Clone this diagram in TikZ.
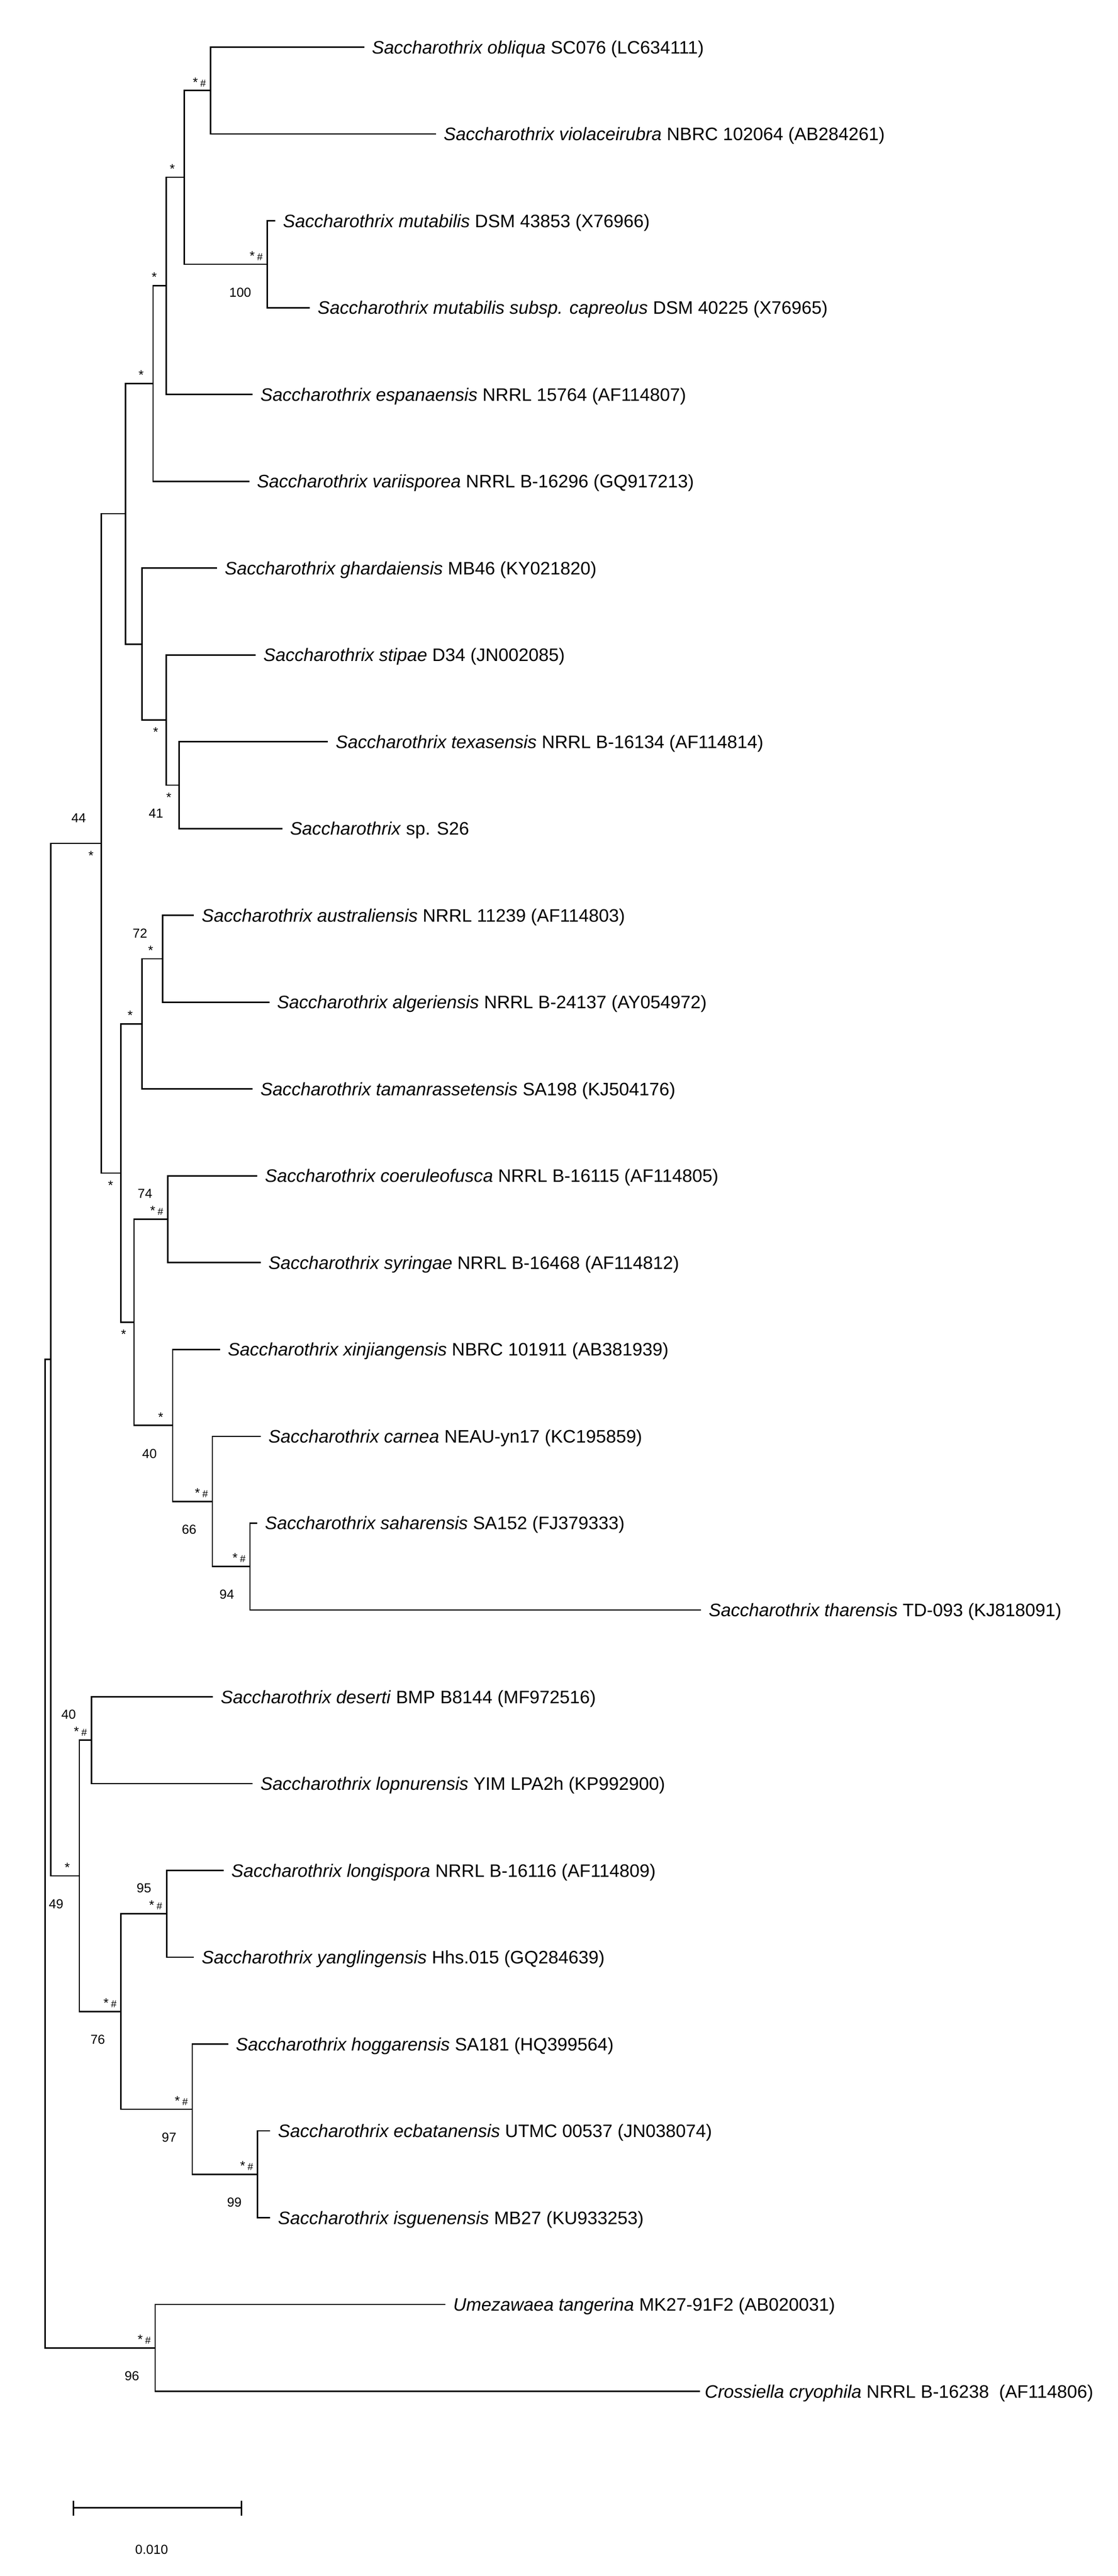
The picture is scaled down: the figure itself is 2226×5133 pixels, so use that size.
\documentclass[tikz,border=0pt]{standalone}
\usepackage{fontspec}
\setmainfont{Liberation Sans}
\newcommand{\taxon}[1]{\textit{#1}}
\newcommand{\hsh}{\kern1.2pt{\fontsize{5pt}{6pt}\selectfont\#}}

\tikzset{
  br/.style={line width=0.7pt, line cap=rect},
  leaf/.style={anchor=west, inner xsep=4pt, inner ysep=0pt, text height=6.45pt, text depth=0pt, font=\fontsize{9pt}{11pt}\selectfont},
  bs/.style={anchor=base east, inner sep=0pt, font=\fontsize{6.5pt}{8pt}\selectfont},
}

\begin{document}
\begin{tikzpicture}[x=0.25pt,y=0.25pt,yscale=-1,xscale=1]
\useasboundingbox (0,0) rectangle (2226,5133);

%Leaves
\node[leaf] (obl) at (724,94)   {\taxon{Saccharothrix obliqua} SC076 (LC634111)};
\node[leaf] (vio) at (867,267)  {\taxon{Saccharothrix violaceirubra} NBRC 102064 (AB284261)};
\node[leaf] (mut) at (547,440)  {\taxon{Saccharothrix mutabilis} DSM 43853 (X76966)};
\node[leaf] (cap) at (616,613)  {\taxon{Saccharothrix mutabilis subsp. capreolus} DSM 40225 (X76965)};
\node[leaf] (esp) at (502,786)  {\taxon{Saccharothrix espanaensis} NRRL 15764 (AF114807)};
\node[leaf] (var) at (495,959)  {\taxon{Saccharothrix variisporea} NRRL B-16296 (GQ917213)};
\node[leaf] (gha) at (431,1132) {\taxon{Saccharothrix ghardaiensis} MB46 (KY021820)};
\node[leaf] (sti) at (508,1305) {\taxon{Saccharothrix stipae} D34 (JN002085)};
\node[leaf] (tex) at (652,1478) {\taxon{Saccharothrix texasensis} NRRL B-16134 (AF114814)};
\node[leaf] (s26) at (561,1651) {\taxon{Saccharothrix} sp. S26};
\node[leaf] (aus) at (385,1824) {\taxon{Saccharothrix australiensis} NRRL 11239 (AF114803)};
\node[leaf] (alg) at (535,1997) {\taxon{Saccharothrix algeriensis} NRRL B-24137 (AY054972)};
\node[leaf] (tam) at (502,2170) {\taxon{Saccharothrix tamanrassetensis} SA198 (KJ504176)};
\node[leaf] (coe) at (511,2343) {\taxon{Saccharothrix coeruleofusca} NRRL B-16115 (AF114805)};
\node[leaf] (syr) at (518,2516) {\taxon{Saccharothrix syringae} NRRL B-16468 (AF114812)};
\node[leaf] (xin) at (437,2689) {\taxon{Saccharothrix xinjiangensis} NBRC 101911 (AB381939)};
\node[leaf] (car) at (518,2862) {\taxon{Saccharothrix carnea} NEAU-yn17 (KC195859)};
\node[leaf] (sah) at (511,3035) {\taxon{Saccharothrix saharensis} SA152 (FJ379333)};
\node[leaf] (tha) at (1395,3208) {\taxon{Saccharothrix tharensis} TD-093 (KJ818091)};
\node[leaf] (des) at (423,3381) {\taxon{Saccharothrix deserti} BMP B8144 (MF972516)};
\node[leaf] (lop) at (502,3554) {\taxon{Saccharothrix lopnurensis} YIM LPA2h (KP992900)};
\node[leaf] (lon) at (444,3727) {\taxon{Saccharothrix longispora} NRRL B-16116 (AF114809)};
\node[leaf] (yan) at (385,3900) {\taxon{Saccharothrix yanglingensis} Hhs.015 (GQ284639)};
\node[leaf] (hog) at (453,4073) {\taxon{Saccharothrix hoggarensis} SA181 (HQ399564)};
\node[leaf] (ecb) at (537,4246) {\taxon{Saccharothrix ecbatanensis} UTMC 00537 (JN038074)};
\node[leaf] (isg) at (537,4419) {\taxon{Saccharothrix isguenensis} MB27 (KU933253)};
\node[leaf] (ume) at (886,4592) {\taxon{Umezawaea tangerina} MK27-91F2 (AB020031)};
\node[leaf, inner xsep=2.5pt] (cro) at (1393,4765) {\taxon{Crossiella cryophila} NRRL B-16238~~(AF114806)};

%Internal nodes
\coordinate (nA) at (419,180.5);
\coordinate (nM) at (532,526.5);
\coordinate (nB) at (367,353);
\coordinate (nC) at (331,569.5);
\coordinate (nD) at (305,764);
\coordinate (nH) at (357,1564.5);
\coordinate (nG) at (331,1435);
\coordinate (nF) at (283,1283.5);
\coordinate (nE) at (250,1023.5);
\coordinate (nL) at (324,1910.5);
\coordinate (nK) at (283,2040);
\coordinate (nO) at (334,2429.5);
\coordinate (nR) at (498,3121.5);
\coordinate (nQ) at (423,2991.75);
\coordinate (nP) at (344,2840.4);
\coordinate (nN) at (267,2635);
\coordinate (nJ) at (241,2337.5);
\coordinate (nI) at (202,1680.6);
\coordinate (nV) at (182,3467.5);
\coordinate (nX) at (332,3813.5);
\coordinate (nZ) at (513,4332.5);
\coordinate (nY) at (383,4202.75);
\coordinate (nW) at (241,4008);
\coordinate (nU) at (158,3737.8);
\coordinate (nS) at (101,2709);
\coordinate (nT) at (309,4678.5);
\coordinate (root) at (90,3693.8);

%Branches
\draw[br] (obl.west) -| (nA) |- (vio.west);
\draw[br] (mut.west) -| (nM) |- (cap.west);
\draw[br] (nA) -| (nB) |- (nM);
\draw[br] (nB) -| (nC) |- (esp.west);
\draw[br] (nC) -| (nD) |- (var.west);
\draw[br] (tex.west) -| (nH) |- (s26.west);
\draw[br] (sti.west) -| (nG) |- (nH);
\draw[br] (gha.west) -| (nF) |- (nG);
\draw[br] (nD) -| (nE) |- (nF);
\draw[br] (aus.west) -| (nL) |- (alg.west);
\draw[br] (nL) -| (nK) |- (tam.west);
\draw[br] (coe.west) -| (nO) |- (syr.west);
\draw[br] (sah.west) -| (nR) |- (tha.west);
\draw[br] (car.west) -| (nQ) |- (nR);
\draw[br] (xin.west) -| (nP) |- (nQ);
\draw[br] (nO) -| (nN) |- (nP);
\draw[br] (nK) -| (nJ) |- (nN);
\draw[br] (nE) -| (nI) |- (nJ);
\draw[br] (des.west) -| (nV) |- (lop.west);
\draw[br] (lon.west) -| (nX) |- (yan.west);
\draw[br] (ecb.west) -| (nZ) |- (isg.west);
\draw[br] (hog.west) -| (nY) |- (nZ);
\draw[br] (nX) -| (nW) |- (nY);
\draw[br] (nV) -| (nU) |- (nW);
\draw[br] (nI) -| (nS) |- (nU);
\draw[br] (ume.west) -| (nT) |- (cro.west);
\draw[br] (nS) -| (root) |- (nT);

%Support values
\node[bs] (bsA)  at (411,172.5)   {*\hsh};
\node[bs] (bsM)  at (524,518.5)   {*\hsh};
\node[bs] (btM)  at (501,591.5)   {100};
\node[bs] (bsB)  at (349,345)     {*};
\node[bs] (bsC)  at (313,561.5)   {*};
\node[bs] (bsD)  at (287,756)     {*};
\node[bs] (bsG)  at (316,1468)    {*};
\node[bs] (bsH)  at (342,1597.5)  {*};
\node[bs] (btH)  at (326,1629.5)  {41};
\node[bs] (btI)  at (172,1638.6)  {44};
\node[bs] (bsI)  at (187,1713.6)  {*};
\node[bs] (btL)  at (294,1868.5)  {72};
\node[bs] (bsL)  at (306,1902.5)  {*};
\node[bs] (bsK)  at (265,2032)    {*};
\node[bs] (bsJ)  at (226,2370.5)  {*};
\node[bs] (btO)  at (304,2387.5)  {74};
\node[bs] (bsO)  at (326,2421.5)  {*\hsh};
\node[bs] (bsN)  at (252,2668)    {*};
\node[bs] (bsP)  at (326,2832.4)  {*};
\node[bs] (btP)  at (313,2905.4)  {40};
\node[bs] (bsQ)  at (415,2983.75) {*\hsh};
\node[bs] (btQ)  at (392,3056.75) {66};
\node[bs] (bsR)  at (490,3113.5)  {*\hsh};
\node[bs] (btR)  at (467,3186.5)  {94};
\node[bs] (btV)  at (152,3425.5)  {40};
\node[bs] (bsV)  at (174,3459.5)  {*\hsh};
\node[bs] (bsU)  at (140,3729.8)  {*};
\node[bs] (btU)  at (127,3802.8)  {49};
\node[bs] (btX)  at (302,3771.5)  {95};
\node[bs] (bsX)  at (324,3805.5)  {*\hsh};
\node[bs] (bsW)  at (233,4000)    {*\hsh};
\node[bs] (btW)  at (210,4073)    {76};
\node[bs] (bsY)  at (375,4194.75) {*\hsh};
\node[bs] (btY)  at (352,4267.75) {97};
\node[bs] (bsZ)  at (505,4324.5)  {*\hsh};
\node[bs] (btZ)  at (482,4397.5)  {99};
\node[bs] (bsT)  at (301,4670.5)  {*\hsh};
\node[bs] (btT)  at (278,4743.5)  {96};

%Scale bar
\coordinate (sbL) at (146,4997);
\coordinate (sbR) at (481,4997);
\draw[br] (sbL) -- (sbR);
\draw[br] ([yshift=3.5pt]sbL) -- ([yshift=-3.25pt]sbL);
\draw[br] ([yshift=3.5pt]sbR) -- ([yshift=-3.25pt]sbR);
\node[bs, anchor=base] (sbT) at (302,5089) {0.010};

\end{tikzpicture}
\end{document}
